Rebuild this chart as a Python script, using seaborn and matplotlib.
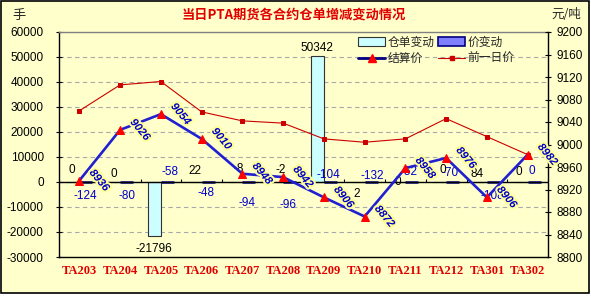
import numpy as np
import pandas as pd
import matplotlib
matplotlib.use('Agg')
import matplotlib.pyplot as plt
import seaborn as sns
from matplotlib.patches import Patch, Rectangle
from matplotlib.lines import Line2D
import matplotlib.patheffects as pe

# ---------------- data ----------------
contracts = ['TA203', 'TA204', 'TA205', 'TA206', 'TA207', 'TA208',
             'TA209', 'TA210', 'TA211', 'TA212', 'TA301', 'TA302']
warrant_change = [0, 0, -21796, 22, -8, -2, 50342, 2, 0, 0, 84, 0]
price_change = [-124, -80, -58, -48, -94, -96, -104, -132, -52, -70, -108, 0]
settle_price = [8936, 9026, 9054, 9010, 8948, 8942, 8906, 8872, 8958, 8976, 8906, 8982]
prev_price = [9060, 9106, 9112, 9058, 9042, 9038, 9010, 9004, 9010, 9046, 9014, 8982]

left_ticks = list(range(-30000, 60001, 10000))
right_ticks = list(range(8800, 9201, 40))

# label offsets in pixels (dx, dy up)
warrant_label_off = [(-1, 12), (0, 8), (0, -13), (0, 11), (3, 13), (4, 12),
                     (0, 8), (-1, -12), (-1, 0), (3, 12), (-3, 8), (-2, 10)]
price_label_off = [(-1, -14), (0, -14), (3, 10), (-2, -11), (-2, -21), (-2, -23),
                   (-2, 7), (1, 6), (-3, 10), (-3, 9), (-1, -14), (-2, 11)]

# ---------------- style ----------------
sns.set_theme(style='white')
plt.rcParams['font.family'] = ['Liberation Sans', 'Noto Sans CJK SC', 'DejaVu Sans']
plt.rcParams['axes.unicode_minus'] = False

BG = '#FFFFCC'
fig = plt.figure(figsize=(5.91, 2.97), dpi=100, facecolor='white')
fig.patches.append(Rectangle((0.0015, 4 / 297), 589 / 591 - 0.0015, 1 - 4 / 297 - 0.002,
                             transform=fig.transFigure, facecolor=BG,
                             edgecolor='black', linewidth=1.2, zorder=-10))
ax = fig.add_axes([59 / 591, 1 - 257 / 297, (548 - 59) / 591, (257 - 32) / 297])
ax.set_facecolor(BG)

df = pd.DataFrame({
    'contract': contracts * 2,
    'value': warrant_change + price_change,
    'series': ['仓单变动'] * len(contracts) + ['价变动'] * len(contracts),
})
sns.barplot(data=df, x='contract', y='value', hue='series',
            hue_order=['仓单变动', '价变动'],
            palette={'仓单变动': '#CCFFFF', '价变动': '#8080FF'},
            width=0.64, dodge=True, errorbar=None, legend=False, ax=ax,
            saturation=1)
edge_styles = [('#333333', 0.8), ('#000080', 1.8)]
for cont, (ec, lw) in zip(ax.containers, edge_styles):
    for p in cont:
        p.set_edgecolor(ec)
        p.set_linewidth(lw)

ax.set_ylim(-30000, 60000)
ax.set_yticks(left_ticks)
ax.set_xlim(-0.5, len(contracts) - 0.5)
ax.set_xlabel('')
ax.set_ylabel('')
ax.yaxis.grid(True, linestyle=(0, (4, 3)), color='#A8A8A8', linewidth=0.8)
ax.xaxis.grid(False)
ax.set_axisbelow(True)
ax.axhline(0, color='black', linewidth=1.0, zorder=3)
ax.vlines(np.arange(len(contracts) + 1) - 0.5, 0, 1300, color='black', linewidth=0.8, zorder=3)

for s in ['left', 'bottom']:
    ax.spines[s].set_color('black')
    ax.spines[s].set_linewidth(1.0)
ax.spines['top'].set_color('#808080')
ax.spines['top'].set_linewidth(1.0)
ax.spines['right'].set_visible(False)

ax.tick_params(axis='y', direction='inout', length=4, width=0.8, pad=9,
               labelsize=8.5, colors='black', left=True)
ax.tick_params(axis='x', length=0, pad=6)
for lab in ax.get_xticklabels():
    lab.set_color('#E00000')
    lab.set_fontweight('bold')
    lab.set_fontsize(9)
    lab.set_family(['Liberation Serif'])

# bar labels
for i, (v, (dx, dy)) in enumerate(zip(warrant_change, warrant_label_off)):
    ax.annotate(str(v), (i - 0.16, v), xytext=(dx, dy), textcoords='offset pixels',
                ha='center', va='center', fontsize=8.5, color='black', zorder=4)
for i, (v, (dx, dy)) in enumerate(zip(price_change, price_label_off)):
    ax.annotate(str(v), (i + 0.16, v), xytext=(dx, dy), textcoords='offset pixels',
                ha='center', va='center', fontsize=8.5, color='#0000CC', zorder=4)

# ---------------- right axis ----------------
ax2 = ax.twinx()
xs = np.arange(len(contracts))
sns.lineplot(x=xs, y=prev_price, ax=ax2, color='#CC0000', linewidth=0.8,
             marker='s', markersize=2.4, markeredgecolor='#CC0000',
             markerfacecolor='#CC0000', legend=False)
sns.lineplot(x=xs, y=settle_price, ax=ax2, color='#2020D0', linewidth=1.9,
             marker='^', markersize=5.5, markeredgecolor='red',
             markerfacecolor='red', legend=False)
ax2.set_ylim(8800, 9200)
ax2.set_yticks(right_ticks)
ax2.set_xlim(-0.5, len(contracts) - 0.5)
ax2.set_ylabel('')
ax2.grid(False)
for s in ['left', 'top', 'bottom']:
    ax2.spines[s].set_visible(False)
ax2.spines['right'].set_color('black')
ax2.spines['right'].set_linewidth(1.0)
ax2.tick_params(axis='y', direction='inout', length=4, width=0.8, pad=4,
                labelsize=8.5, colors='black', right=True)

for i, v in enumerate(settle_price):
    ax2.annotate(str(v), (i, v), xytext=(20, 0), textcoords='offset pixels',
                 rotation=-50, ha='center', va='center', fontsize=8,
                 fontweight='bold', fontstyle='italic', color='#0000CC',
                 path_effects=[pe.withStroke(linewidth=3, foreground='#FFFF99')],
                 annotation_clip=False)

# ---------------- legend & texts ----------------
handles = [
    Patch(facecolor='#CCFFFF', edgecolor='#333333', linewidth=0.8),
    Line2D([], [], color='#000080', linewidth=2.0, marker='^', markersize=5.5,
           markerfacecolor='red', markeredgecolor='red'),
    Patch(facecolor='#8080FF', edgecolor='#000080', linewidth=1.2),
    Line2D([], [], color='#CC0000', linewidth=0.8, marker='s', markersize=2.4,
           markerfacecolor='#CC0000', markeredgecolor='#CC0000'),
]
labels = ['仓单变动', '结算价', '价变动', '前一日价']
leg = fig.legend(handles, labels, ncol=2, loc='upper left',
                 bbox_to_anchor=(358 / 591, 1 - 36 / 297), frameon=False,
                 prop={'family': ['Noto Sans CJK SC'], 'size': 8.5},
                 handlelength=2.3, handleheight=0.8, columnspacing=0.3,
                 handletextpad=0.2, labelspacing=0.25, borderaxespad=0, borderpad=0)

fig.text(0.497, 1 - 15 / 297, '当日PTA期货各合约仓单增减变动情况', color='#E00000',
         fontsize=9.5, fontweight='bold', ha='center', va='center',
         family=['Noto Sans CJK SC'])
fig.text(12 / 591, 1 - 15 / 297, '手', fontsize=9.5, ha='left', va='center',
         family=['Noto Sans CJK SC'])
fig.text(566 / 591, 1 - 15 / 297, '元/吨', fontsize=9, ha='center', va='center',
         family=['Noto Sans CJK SC', 'DejaVu Sans'])

fig.savefig('out.png', dpi=100, facecolor=fig.get_facecolor())
